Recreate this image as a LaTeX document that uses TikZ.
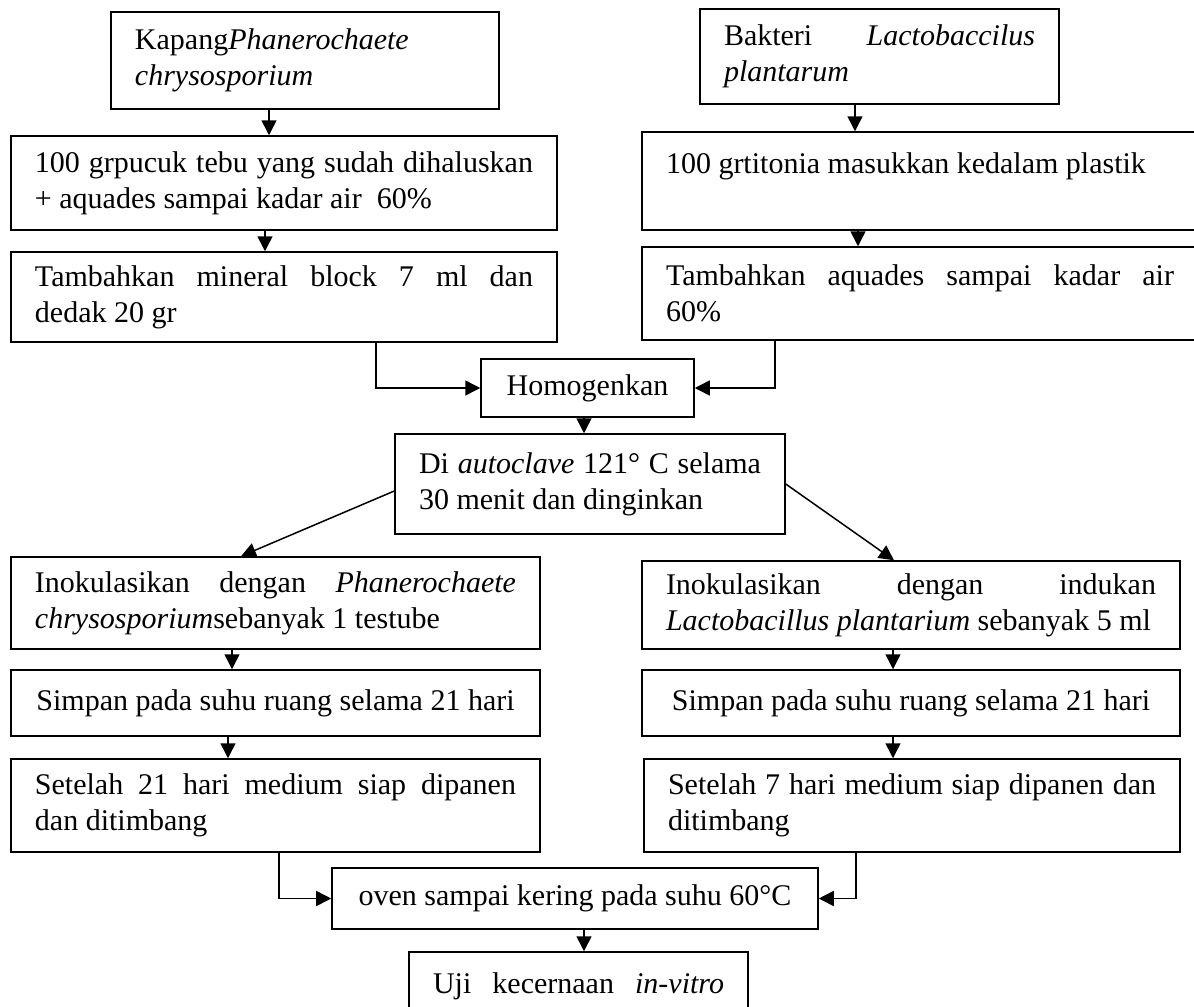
\documentclass[tikz,border=0pt]{standalone}
\usepackage{fontspec}
\setmainfont{Liberation Serif}
\usetikzlibrary{arrows.meta}

\begin{document}
\begin{tikzpicture}[x=0.4pt, y=-0.4pt,
		box/.style={draw, line width=0.6pt, inner xsep=9.6pt, inner ysep=3pt,
			font=\fontsize{12}{14.4}\selectfont},
		parbox/.style={box, align=justify,
			execute at begin node={\tolerance=10000\relax\hyphenpenalty=10000\relax}},
		linebox/.style={box, align=center},
		flow/.style={line width=0.6pt, -{Triangle[length=6pt, width=6pt]}}]
		\useasboundingbox (0,0) rectangle (1194,1007);
		\clip (0,0) rectangle (1194,1007);

		\node (kapang) at (305, 60.5) [parbox, text width=136pt, minimum height=38.8pt]
			{Kapang\textit{Phanerochaete}\newline \textit{chrysosporium}};
		\node (pucuk) at (284, 183) [parbox, text width=199.2pt, minimum height=37.6pt]
			{100 grpucuk tebu yang sudah dihaluskan\linebreak + aquades sampai kadar air~ 60\%};
		\node (mineral) at (284, 297) [parbox, text width=199.2pt, minimum height=36pt]
			{Tambahkan mineral block 7 ml dan\linebreak dedak 20 gr};

		\node (bakteri) at (879.5, 56.5) [parbox, text width=124.4pt, minimum height=38pt]
			{Bakteri \textit{Lactobaccilus}\linebreak \textit{plantarum}};
		\node (titonia) at (920, 181) [parbox, text width=203.2pt, minimum height=39.2pt]
			{100 grtitonia masukkan kedalam plastik\newline\mbox{}};
		\node (aquades) at (920, 293.5) [parbox, text width=203.2pt, minimum height=37.2pt]
			{Tambahkan aquades sampai kadar air\linebreak 60\%};

		\node (homogen) at (587.5, 388) [linebox, minimum width=85.2pt, minimum height=23.2pt] {Homogenkan};
		\node (autoclave) at (590, 484) [parbox, text width=136.8pt, minimum height=40pt]
			{Di \textit{autoclave} 121° C selama\linebreak 30 menit dan dinginkan};

		\node (inokP) at (275.5, 603) [parbox, text width=192.4pt, minimum height=36.8pt]
			{Inokulasikan dengan \textit{Phanerochaete}\linebreak \textit{chrysosporium}sebanyak 1 testube};
		\node (simpanP) at (275.5, 703) [linebox, minimum width=211.6pt, minimum height=26.4pt]
			{Simpan pada suhu ruang selama 21 hari};
		\node (setelahP) at (275.5, 805.5) [parbox, text width=192.4pt, minimum height=37.2pt]
			{Setelah 21 hari medium siap dipanen\linebreak dan ditimbang};

		\node (inokL) at (911, 605) [parbox, text width=196pt, minimum height=35.2pt]
			{Inokulasikan dengan indukan\linebreak \textit{Lactobacillus plantarium} sebanyak 5 ml};
		\node (simpanL) at (911, 703) [linebox, minimum width=215.2pt, minimum height=26.4pt]
			{Simpan pada suhu ruang selama 21 hari};
		\node (setelahL) at (912, 805.5) [parbox, text width=195.2pt, minimum height=37.2pt]
			{Setelah 7 hari medium siap dipanen dan\linebreak ditimbang};

		\node (oven) at (575, 898.5) [linebox, minimum width=194.4pt, minimum height=24.4pt]
			{oven sampai kering pada suhu 60°C};
		\node (uji) at (578.5, 1001) [parbox, text width=116.4pt, minimum height=39.2pt]
			{Uji kecernaan \textit{in-vitro}\linebreak\mbox{}};

		\draw [flow] (kapang.south -| 269,0) -- (pucuk.north -| 269,0);
		\draw [flow] (pucuk.south -| 265,0) -- (mineral.north -| 265,0);
		\draw [flow] (bakteri.south -| 855,0) -- (titonia.north -| 855,0);
		\draw [flow] (titonia.south -| 858,0) -- (aquades.north -| 858,0);

		\draw [flow] (mineral.south -| 376,0) |- (homogen.west);
		\draw [flow] (aquades.south -| 775,0) |- (homogen.east);
		\draw [flow] (homogen.south -| 584,0) -- (autoclave.north -| 584,0);

		\draw [flow] (autoclave.west |- 0,491) -- (inokP.north -| 241,0);
		\draw [flow] (autoclave.east) -- (inokL.north -| 894,0);

		\draw [flow] (inokP.south -| 232,0) -- (simpanP.north -| 232,0);
		\draw [flow] (simpanP.south -| 228,0) -- (setelahP.north -| 228,0);
		\draw [flow] (inokL.south -| 893,0) -- (simpanL.north -| 893,0);
		\draw [flow] (simpanL.south -| 893,0) -- (setelahL.north -| 893,0);

		\draw [flow] (setelahP.south -| 279,0) |- (oven.west);
		\draw [flow] (setelahL.south -| 856,0) |- (oven.east);
		\draw [flow] (oven.south -| 584,0) -- (uji.north -| 584,0);
	\end{tikzpicture}
\end{document}
